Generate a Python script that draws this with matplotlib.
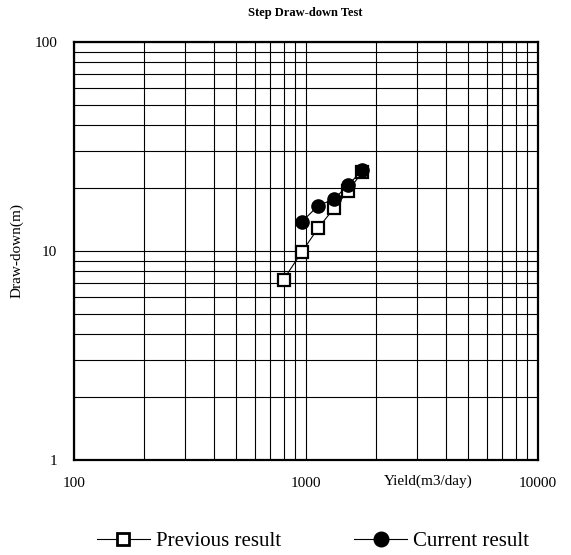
import numpy as np
import matplotlib
matplotlib.use("Agg")
import matplotlib.pyplot as plt
from matplotlib.ticker import LogLocator, FixedLocator, NullFormatter, FixedFormatter
from matplotlib.lines import Line2D

# Step draw-down test data
prev_yield = [800, 960, 1130, 1320, 1520, 1750]
prev_drawdown = [7.3, 9.9, 12.9, 16.0, 19.4, 23.9]

curr_yield = [960, 1130, 1320, 1520, 1750]
curr_drawdown = [13.8, 16.5, 17.7, 20.7, 24.4]

x_ticks = [100, 1000, 10000]
x_tick_labels = ["100", "1000", "10000"]
y_ticks = [1, 10, 100]
y_tick_labels = ["1", "10", "100"]

plt.rcParams["font.family"] = ["Liberation Serif", "DejaVu Serif"]

W, H = 571, 555
fig = plt.figure(figsize=(W / 100, H / 100), dpi=100)
ax = fig.add_axes([74 / W, 1 - 460 / H, (538 - 74) / W, (460 - 42) / H])

ax.set_xscale("log")
ax.set_yscale("log")
ax.set_xlim(100, 10000)
ax.set_ylim(1, 100)

ax.xaxis.set_major_locator(FixedLocator(x_ticks))
ax.xaxis.set_major_formatter(FixedFormatter(x_tick_labels))
ax.yaxis.set_major_locator(FixedLocator(y_ticks))
ax.yaxis.set_major_formatter(FixedFormatter(y_tick_labels))
for axis in (ax.xaxis, ax.yaxis):
    axis.set_minor_locator(LogLocator(base=10, subs=np.arange(2, 10)))
    axis.set_minor_formatter(NullFormatter())

ax.grid(True, which="both", color="black", linewidth=0.8)
ax.set_axisbelow(True)
ax.tick_params(which="both", length=0, labelsize=11)
ax.tick_params(axis="x", pad=12.5)
ax.tick_params(axis="y", pad=12)
for sp in ax.spines.values():
    sp.set_linewidth(1.6)

ax.plot(prev_yield, prev_drawdown, color="black", linewidth=0.8, marker="s",
        markersize=8.5, markerfacecolor="white", markeredgecolor="black",
        markeredgewidth=1.6, zorder=3)
ax.plot(curr_yield, curr_drawdown, color="black", linewidth=0.8, marker="o",
        markersize=9.5, markerfacecolor="black", markeredgecolor="black",
        zorder=4)

fig.text(305 / W, 1 - 13 / H, "Step Draw-down Test", ha="center", va="center",
         fontsize=9, fontweight="bold")
fig.text(428 / W, 1 - 481 / H, "Yield(m3/day)", ha="center", va="center", fontsize=11)
fig.text(16.5 / W, 1 - 251 / H, "Draw-down(m)", ha="center", va="center",
         rotation=90, fontsize=11)

handles = [
    Line2D([], [], color="black", linewidth=0.8, marker="s", markersize=8.5,
           markerfacecolor="white", markeredgecolor="black", markeredgewidth=2.0),
    Line2D([], [], color="black", linewidth=0.8, marker="o", markersize=10.5,
           markerfacecolor="black"),
]
fig.legend(handles, ["Previous result", "Current result"], loc="center",
           bbox_to_anchor=(313 / W, 1 - 541 / H), ncol=2, frameon=False,
           fontsize=15, handlelength=2.55, handletextpad=0.29, columnspacing=3.5)

fig.savefig("out.png", dpi=100)
